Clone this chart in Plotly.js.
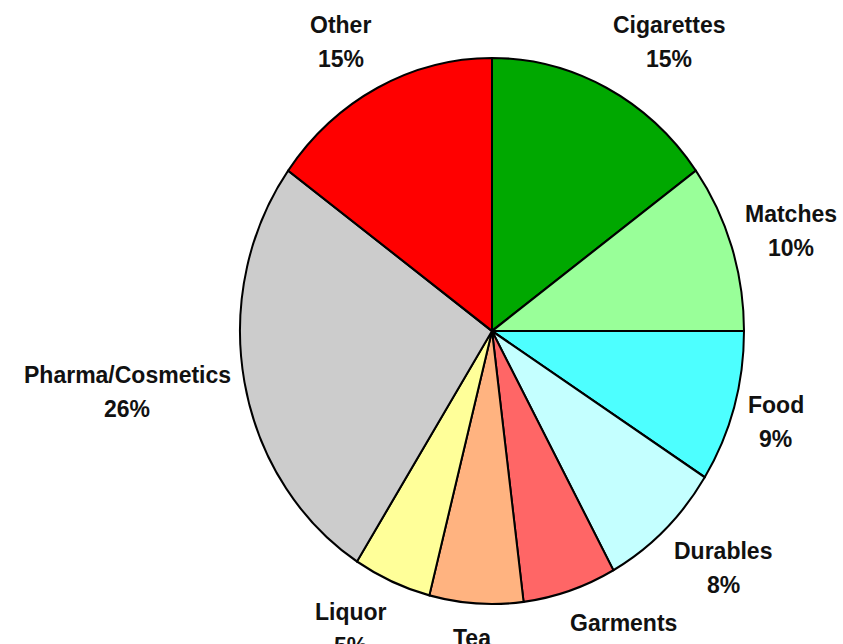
<!DOCTYPE html>
<html>
<head>
<meta charset="utf-8">
<script src="https://cdn.plot.ly/plotly-3.0.1.min.js"></script>
<style>html,body{margin:0;padding:0;background:#fff;}</style>
</head>
<body>
<div id="chart" style="width:843px;height:644px;"></div>
<script>
// Data
const categories = ["Cigarettes", "Matches", "Food", "Durables", "Garments", "Tea", "Liquor", "Pharma/Cosmetics", "Other"];
const shares = [15, 10, 9, 8, 6, 6, 5, 26, 15];
const colors = ["#00A800", "#99FF99", "#4DFFFF", "#C4FFFF", "#FF6666", "#FFB380", "#FFFF99", "#CCCCCC", "#FF0000"];

const W = 843, H = 644;
const CX = 492, CY = 331, R = 252, SY = 273 / 252;
const FONT = "Liberation Sans, Arial, sans-serif";
const FS = 23;

const trace = {
  type: "pie",
  labels: categories,
  values: shares,
  sort: false,
  direction: "clockwise",
  rotation: 0,
  textinfo: "none",
  hoverinfo: "none",
  marker: {colors: colors, line: {color: "#000000", width: 2}},
  domain: {x: [(CX - R) / W, (CX + R) / W], y: [(H - CY - R) / H, (H - CY + R) / H]},
  showlegend: false
};

// Label annotations computed from slice mid-angles
const ctx = document.createElement("canvas").getContext("2d");
ctx.font = "bold " + FS + "px 'Liberation Sans'";
const total = shares.reduce((a, b) => a + b, 0);
const annotations = [];
let cum = 0;
const GAPX = 14, GAPY = 20, BOXH = 60, LINE = 17;
categories.forEach((name, i) => {
  const mid = (cum + shares[i] / 2) / total * 2 * Math.PI;
  cum += shares[i];
  const pct = Math.round(shares[i] / total * 100) + "%";
  const w = Math.max(ctx.measureText(name).width, ctx.measureText(pct).width);
  const s = Math.sin(mid), c = Math.cos(mid);
  const k = Math.max(-1, Math.min(1, 3 * s));
  const bx = CX + (R + GAPX) * s + (w / 2) * k;
  const by = CY - (R + GAPY) * SY * c - (BOXH / 2) * c;
  [[name, by - LINE], [pct, by + LINE]].forEach(([t, y]) => {
    annotations.push({
      text: t, x: bx / W, y: 1 - y / H, xref: "paper", yref: "paper",
      xanchor: "center", yanchor: "middle", showarrow: false,
      font: {family: FONT, size: FS, color: "#111111", weight: "bold"}
    });
  });
});

const layout = {
  width: W, height: H,
  margin: {l: 0, r: 0, t: 0, b: 0},
  paper_bgcolor: "#ffffff",
  plot_bgcolor: "#ffffff",
  annotations: annotations
};

Plotly.newPlot("chart", [trace], layout, {displayModeBar: false, staticPlot: true}).then(() => {
  const g = document.querySelector(".pielayer .trace");
  if (g) {
    g.setAttribute("transform", "translate(" + CX + "," + CY + ") scale(1," + SY + ") translate(" + (-CX) + "," + (-CY) + ")");
  }
});
</script>
</body>
</html>
